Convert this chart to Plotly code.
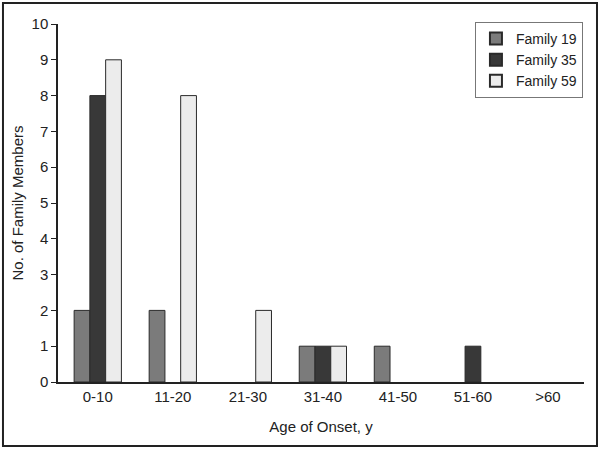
import plotly.graph_objects as go

categories = ["0-10", "11-20", "21-30", "31-40", "41-50", "51-60", ">60"]
family19 = [2, 2, 0, 1, 1, 0, 0]
family35 = [8, 0, 0, 1, 0, 1, 0]
family59 = [9, 8, 2, 1, 0, 0, 0]
series_names = ["Family 19", "Family 35", "Family 59"]
series_colors = ["#7b7b7b", "#383838", "#ececec"]

FONT = "Liberation Sans Narrow, Arial Narrow, Liberation Sans, Arial, sans-serif"

fig = go.Figure()
for name, vals, col in zip(series_names, [family19, family35, family59], series_colors):
    fig.add_trace(go.Bar(
        x=categories, y=[v if v else None for v in vals], name=name,
        marker=dict(color=col, line=dict(color="#2a2a2a", width=1)),
    ))

fig.update_layout(
    width=600, height=450,
    margin=dict(l=58, r=16, t=24, b=68, autoexpand=False),
    paper_bgcolor="white", plot_bgcolor="white",
    barmode="group", bargap=0.37, bargroupgap=0,
    font=dict(family=FONT, size=15, color="#222"),
    showlegend=True,
    legend=dict(
        x=0.998, y=1.006, xanchor="right", yanchor="top",
        bordercolor="#777", borderwidth=1, bgcolor="white",
        font=dict(family=FONT, size=14, color="#222"),
        itemsizing="constant", tracegroupgap=0, itemwidth=30,
    ),
    xaxis=dict(
        type="category", range=[-0.53, 6.48], automargin=False,
        showline=True, linecolor="#222", linewidth=1.5,
        ticks="", showgrid=False, zeroline=False,
        title=dict(text="Age of Onset, y", font=dict(family=FONT, size=15), standoff=18),
        tickfont=dict(family=FONT, size=15),
    ),
    yaxis=dict(
        range=[0, 10], dtick=1, automargin=False,
        showline=True, linecolor="#222", linewidth=1.5,
        ticks="outside", ticklen=5, tickcolor="#222",
        showgrid=False, zeroline=False,
        title=dict(text="No. of Family Members", font=dict(family=FONT, size=15), standoff=4),
        tickfont=dict(family=FONT, size=15),
    ),
)

fig.add_shape(
    type="rect", xref="paper", yref="paper",
    x0=-0.1046, x1=1.0247, y0=-0.1788, y1=1.0587,
    line=dict(color="#222", width=2), fillcolor="rgba(0,0,0,0)", layer="above",
)

fig.write_html(
    "out.html",
    config={"displayModeBar": False},
    post_script="document.body.style.margin='0';document.body.style.padding='0';",
)
